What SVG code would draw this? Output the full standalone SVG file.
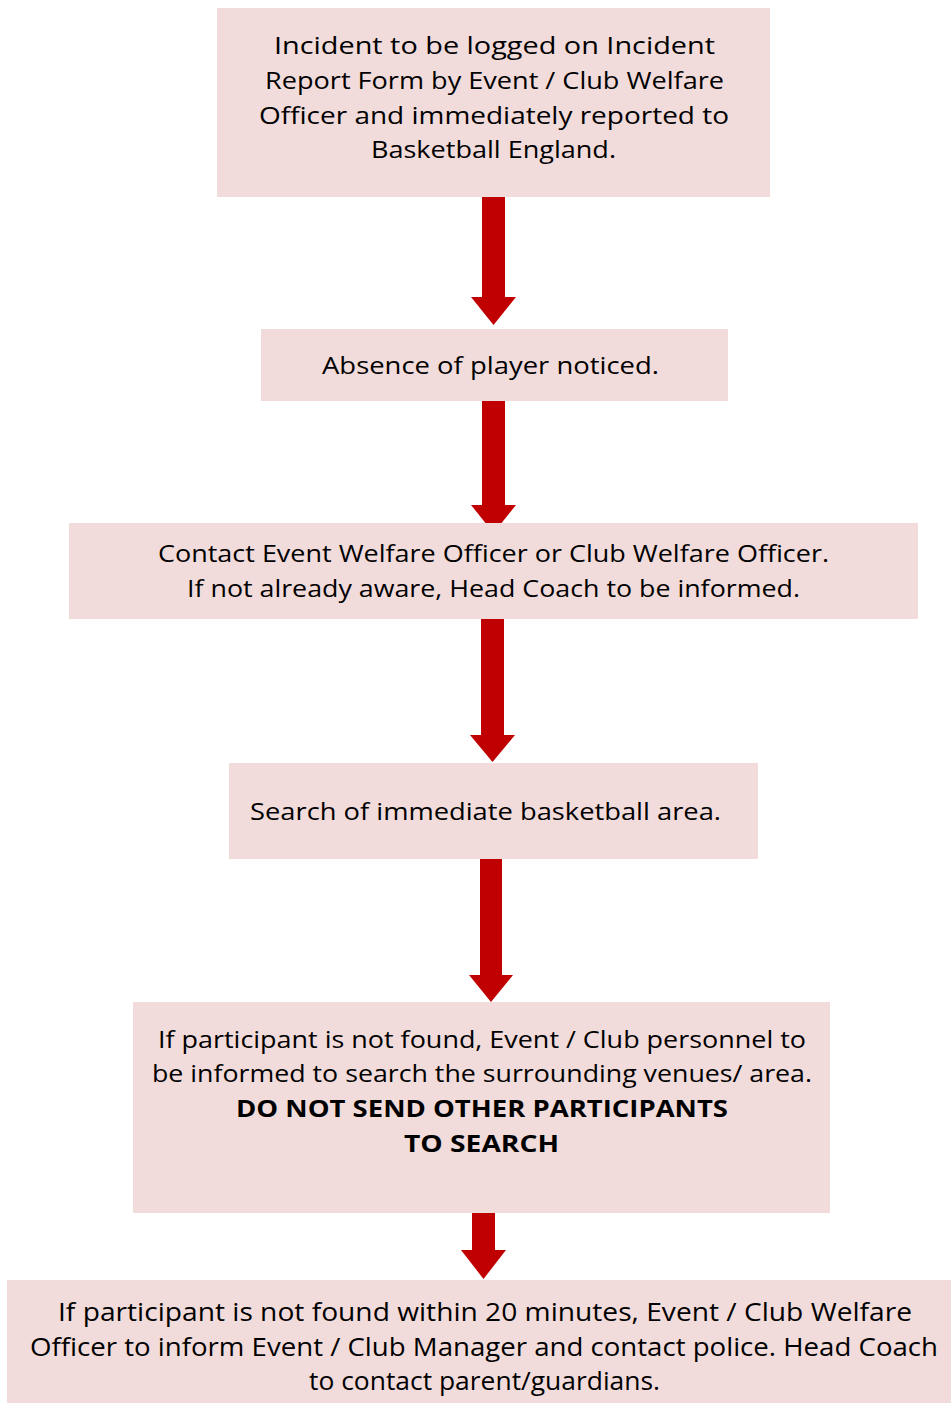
<svg xmlns="http://www.w3.org/2000/svg" width="951" height="1403" viewBox="0 0 951 1403">
<style>
.box{fill:#F2DCDB;}
.arr{fill:#C00000;}
text{font-family:"Open Sans","DejaVu Sans",sans-serif;font-size:23px;fill:#000;text-anchor:middle;}
.b{font-weight:bold;}
.n{font-size:25px;}
</style>
<rect width="951" height="1403" fill="#fff"/>
<g id="connectors">
<path class="arr" d="M482,197 H505 V297 H516 L493.5,325 L471,297 H482 Z"/>
<path class="arr" d="M482,401 H505 V505 H516 L493.5,533 L471,505 H482 Z"/>
<path class="arr" d="M481,619 H504 V735 H515 L492.5,762 L470,735 H481 Z"/>
<path class="arr" d="M480,859 H502 V975 H513 L491,1002 L469,975 H480 Z"/>
<path class="arr" d="M472,1213 H495 V1250 H506 L483.5,1279 L461,1250 H472 Z"/>
</g>
<g id="node1">
<rect class="box" x="217" y="8" width="553" height="189"/>
<text x="494.5" y="54" textLength="441" lengthAdjust="spacingAndGlyphs">Incident to be logged on Incident</text>
<text x="494.5" y="89" textLength="459" lengthAdjust="spacingAndGlyphs">Report Form by Event / Club Welfare</text>
<text x="494" y="124" textLength="470" lengthAdjust="spacingAndGlyphs">Officer and immediately reported to</text>
<text x="493.5" y="158" textLength="245" lengthAdjust="spacingAndGlyphs">Basketball England.</text>
</g>
<g id="node2">
<rect class="box" x="261" y="329" width="467" height="72"/>
<text x="490.5" y="374" textLength="337" lengthAdjust="spacingAndGlyphs">Absence of player noticed.</text>
</g>
<g id="node3">
<rect class="box" x="69" y="523" width="849" height="96"/>
<text x="493.5" y="562" textLength="671" lengthAdjust="spacingAndGlyphs">Contact Event Welfare Officer or Club Welfare Officer.</text>
<text x="493.5" y="597" textLength="613" lengthAdjust="spacingAndGlyphs">If not already aware, Head Coach to be informed.</text>
</g>
<g id="node4">
<rect class="box" x="229" y="763" width="529" height="96"/>
<text x="485.5" y="820" textLength="471" lengthAdjust="spacingAndGlyphs">Search of immediate basketball area.</text>
</g>
<g id="node5">
<rect class="box" x="133" y="1002" width="697" height="211"/>
<text x="482" y="1048" textLength="648" lengthAdjust="spacingAndGlyphs">If participant is not found, Event / Club personnel to</text>
<text x="482" y="1082" textLength="660" lengthAdjust="spacingAndGlyphs">be informed to search the surrounding venues/ area.</text>
<text class="b" x="482" y="1117" textLength="492" lengthAdjust="spacingAndGlyphs">DO NOT SEND OTHER PARTICIPANTS</text>
<text class="b" x="481.5" y="1152" textLength="155" lengthAdjust="spacingAndGlyphs">TO SEARCH</text>
</g>
<g id="node6">
<rect class="box" x="7" y="1280" width="944" height="123"/>
<text class="n" x="485" y="1321" textLength="854" lengthAdjust="spacingAndGlyphs">If participant is not found within 20 minutes, Event / Club Welfare</text>
<text class="n" x="484" y="1356" textLength="908" lengthAdjust="spacingAndGlyphs">Officer to inform Event / Club Manager and contact police. Head Coach</text>
<text class="n" x="484.5" y="1390" textLength="351" lengthAdjust="spacingAndGlyphs">to contact parent/guardians.</text>
</g>
</svg>
